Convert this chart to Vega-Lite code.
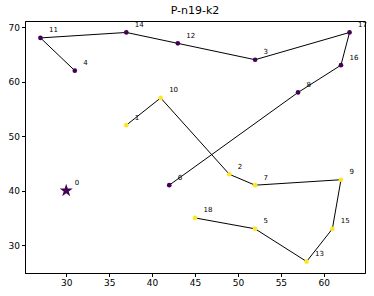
{
  "$schema": "https://vega.github.io/schema/vega-lite/v6.json",
  "width": 340,
  "height": 252,
  "autosize": {"type": "none"},
  "padding": {"left": 25, "top": 21, "right": 9, "bottom": 23},
  "title": {"text": "P-n19-k2", "fontSize": 11, "font": "DejaVu Sans", "fontWeight": "normal", "offset": 5, "color": "black"},
  "config": {
    "view": {"stroke": "black", "strokeWidth": 1},
    "axis": {"grid": false, "domainColor": "black", "tickColor": "black", "labelColor": "black", "labelFont": "DejaVu Sans", "labelFontSize": 9, "tickSize": 3.5, "labelPadding": 2}
  },
  "datasets": {
    "stops": [
      {"id": "1", "x": 37, "y": 52, "route": "B", "ord": 1},
      {"id": "10", "x": 41, "y": 57, "route": "B", "ord": 2},
      {"id": "2", "x": 49, "y": 43, "route": "B", "ord": 3},
      {"id": "7", "x": 52, "y": 41, "route": "B", "ord": 4},
      {"id": "9", "x": 62, "y": 42, "route": "B", "ord": 5},
      {"id": "15", "x": 61, "y": 33, "route": "B", "ord": 6},
      {"id": "13", "x": 58, "y": 27, "route": "B", "ord": 7},
      {"id": "5", "x": 52, "y": 33, "route": "B", "ord": 8},
      {"id": "18", "x": 45, "y": 35, "route": "B", "ord": 9},
      {"id": "6", "x": 42, "y": 41, "route": "A", "ord": 1},
      {"id": "8", "x": 57, "y": 58, "route": "A", "ord": 2},
      {"id": "16", "x": 62, "y": 63, "route": "A", "ord": 3},
      {"id": "17", "x": 63, "y": 69, "route": "A", "ord": 4},
      {"id": "3", "x": 52, "y": 64, "route": "A", "ord": 5},
      {"id": "12", "x": 43, "y": 67, "route": "A", "ord": 6},
      {"id": "14", "x": 37, "y": 69, "route": "A", "ord": 7},
      {"id": "11", "x": 27, "y": 68, "route": "A", "ord": 8},
      {"id": "4", "x": 31, "y": 62, "route": "A", "ord": 9}
    ],
    "depot": [
      {"id": "0", "x": 30, "y": 40}
    ]
  },
  "layer": [
    {
      "data": {"name": "stops"},
      "mark": {"type": "line", "color": "black", "strokeWidth": 1},
      "encoding": {
        "x": {"field": "x", "type": "quantitative", "scale": {"domain": [25.2, 64.8], "nice": false, "zero": false}, "axis": {"values": [30, 35, 40, 45, 50, 55, 60], "title": null}},
        "y": {"field": "y", "type": "quantitative", "scale": {"domain": [24.9, 71.1], "nice": false, "zero": false}, "axis": {"values": [30, 40, 50, 60, 70], "title": null}},
        "detail": {"field": "route", "type": "nominal"},
        "order": {"field": "ord", "type": "quantitative"}
      }
    },
    {
      "data": {"name": "stops"},
      "mark": {"type": "circle", "size": 22, "opacity": 1},
      "encoding": {
        "x": {"field": "x", "type": "quantitative"},
        "y": {"field": "y", "type": "quantitative"},
        "color": {"field": "route", "type": "nominal", "scale": {"domain": ["A", "B"], "range": ["#440154", "#fde725"]}, "legend": null}
      }
    },
    {
      "data": {"name": "depot"},
      "mark": {"type": "point", "shape": "M0,-1L0.2245,-0.309L0.9511,-0.309L0.3633,0.118L0.5878,0.809L0,0.382L-0.5878,0.809L-0.3633,0.118L-0.9511,-0.309L-0.2245,-0.309Z", "size": 190, "filled": true, "color": "#440154", "opacity": 1},
      "encoding": {
        "x": {"field": "x", "type": "quantitative"},
        "y": {"field": "y", "type": "quantitative"}
      }
    },
    {
      "data": {"name": "stops"},
      "mark": {"type": "text", "align": "left", "baseline": "alphabetic", "dx": 8.5, "dy": -5.5, "fontSize": 7, "font": "DejaVu Sans", "color": "black", "fill": "black"},
      "encoding": {
        "x": {"field": "x", "type": "quantitative"},
        "y": {"field": "y", "type": "quantitative"},
        "text": {"field": "id", "type": "nominal"}
      }
    },
    {
      "data": {"name": "depot"},
      "mark": {"type": "text", "align": "left", "baseline": "alphabetic", "dx": 8.5, "dy": -5.5, "fontSize": 7, "font": "DejaVu Sans", "color": "black", "fill": "black"},
      "encoding": {
        "x": {"field": "x", "type": "quantitative"},
        "y": {"field": "y", "type": "quantitative"},
        "text": {"field": "id", "type": "nominal"}
      }
    }
  ]
}
